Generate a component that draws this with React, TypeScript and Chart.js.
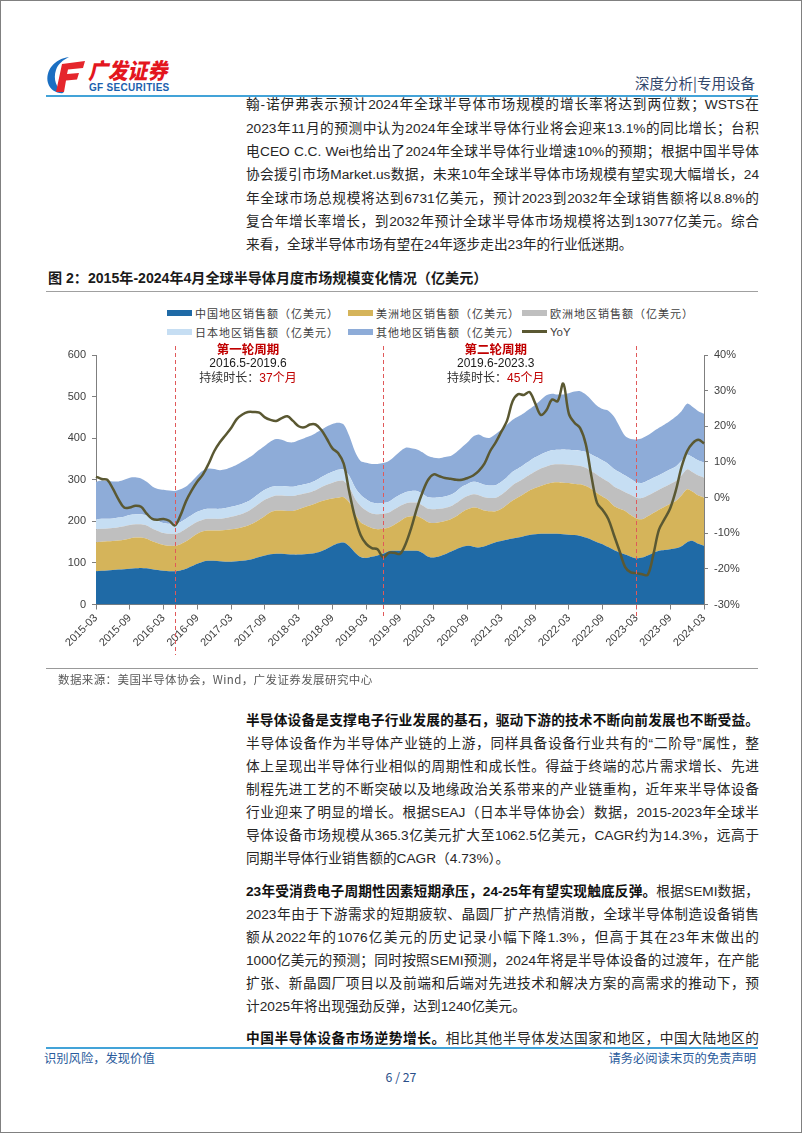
import React, { useEffect, useRef } from 'react';
import { Chart, registerables } from 'chart.js';

Chart.register(...registerables);

// ---------------- data ----------------
const START_YEAR = 2015;
const START_MONTH = 3;

const CHINA = [
  80, 81, 82, 83, 84, 85, 86, 87, 88, 87,
  85, 83, 81, 80, 80, 82, 86, 92, 98, 103,
  105, 105, 104, 103, 103, 104, 105, 107, 110, 114,
  118, 121, 122, 122, 121, 120, 120, 121, 122, 124,
  128, 134, 141, 147, 149, 140, 125, 114, 112, 115,
  118, 122, 128, 129, 129, 129, 129, 129, 124, 115,
  113, 116, 121, 127, 133, 138, 141, 139, 137, 140,
  145, 150, 153, 156, 159, 161, 164, 167, 169, 170,
  170, 170, 170, 169, 168, 167, 165, 161, 156, 150,
  145, 138, 131, 125, 120, 115, 111, 113, 118, 124,
  129, 131, 133, 135, 140, 150, 153, 146, 141,
];

const AMERICAS = [
  70, 70, 70, 70, 70, 71, 73, 74, 73, 71,
  67, 64, 62, 61, 61, 63, 66, 69, 72, 73,
  73, 73, 74, 76, 78, 79, 81, 83, 86, 90,
  95, 101, 104, 104, 104, 105, 109, 113, 116, 119,
  120, 118, 114, 110, 109, 105, 93, 84, 78, 69,
  63, 60, 57, 63, 71, 80, 83, 84, 82, 83,
  83, 82, 80, 78, 79, 84, 88, 94, 94, 86,
  79, 74, 77, 84, 91, 97, 102, 107, 111, 115,
  120, 123, 124, 124, 124, 123, 124, 124, 122, 118,
  114, 113, 106, 105, 105, 100, 96, 92, 94, 96,
  99, 104, 109, 114, 122, 127, 118, 116, 116,
];

const EUROPE = [
  31, 31, 31, 31, 32, 32, 32, 32, 32, 32,
  31, 30, 29, 29, 29, 29, 30, 30, 29, 28,
  28, 28, 28, 29, 30, 31, 32, 34, 37, 39,
  39, 36, 36, 36, 36, 36, 35, 33, 32, 32,
  34, 36, 38, 40, 39, 37, 37, 39, 36, 35,
  36, 36, 36, 37, 37, 34, 33, 32, 32, 32,
  33, 32, 31, 31, 32, 32, 32, 32, 32, 32,
  32, 33, 34, 35, 37, 37, 37, 38, 40, 42,
  42, 43, 43, 44, 44, 45, 44, 44, 43, 44,
  44, 44, 47, 47, 45, 49, 50, 51, 50, 49,
  48, 48, 48, 48, 48, 48, 47, 48, 48,
];

const JAPAN = [
  24, 24, 23, 23, 23, 23, 24, 24, 24, 24,
  24, 24, 24, 24, 24, 24, 24, 24, 24, 24,
  24, 24, 24, 24, 24, 24, 24, 24, 24, 24,
  24, 24, 23, 23, 23, 22, 22, 22, 22, 23,
  24, 25, 26, 27, 27, 27, 27, 27, 27, 26,
  26, 26, 26, 27, 27, 27, 28, 28, 28, 28,
  28, 28, 28, 28, 28, 29, 29, 30, 30, 30,
  30, 30, 31, 31, 32, 32, 33, 33, 34, 34,
  35, 35, 35, 36, 36, 36, 37, 38, 40, 42,
  43, 43, 42, 41, 40, 38, 37, 36, 36, 36,
  35, 35, 35, 35, 35, 35, 36, 36, 36,
];

const OTHER = [
  90, 92, 91, 89, 87, 89, 90, 89, 86, 81,
  77, 77, 80, 80, 79, 79, 78, 81, 87, 94,
  97, 96, 93, 93, 95, 98, 102, 104, 104, 105,
  106, 110, 113, 111, 107, 107, 109, 111, 113, 114,
  114, 115, 115, 113, 109, 96, 86, 81, 88, 93,
  95, 96, 98, 100, 104, 107, 103, 100, 100, 99,
  96, 94, 95, 93, 94, 95, 100, 109, 116, 114,
  115, 123, 125, 126, 125, 125, 124, 125, 126, 131,
  136, 136, 133, 132, 136, 141, 143, 138, 131, 124,
  124, 128, 126, 110, 95, 96, 103, 108, 109, 111,
  114, 115, 117, 120, 120, 123, 121, 119, 118,
];

const YOY = [
  5.9, 5.2, 5.0, 2.5, -0.5, -2.8, -2.8, -2.3, -2.6, -4.5,
  -6.0, -6.2, -6.0, -6.5, -7.8, -5.0, -1.0, 2.0, 4.5, 6.5,
  9.5, 13.0, 15.5, 17.5, 19.5, 22.0, 23.3, 24.0, 24.0, 23.8,
  22.5, 21.8, 21.5, 22.3, 22.8, 21.5, 20.0, 19.7, 20.5, 20.5,
  19.0, 16.5, 13.8, 12.5, 9.5, 1.5, -5.5, -10.5, -13.0, -14.2,
  -14.5, -16.8, -15.5, -15.5, -15.8, -13.0, -8.5, -3.0, 1.5, 5.0,
  6.5, 6.0, 5.5, 5.3, 5.0, 5.0, 5.5, 6.2, 7.5, 9.5,
  13.0, 15.5, 18.5, 21.5, 27.0, 29.0, 28.8, 29.6, 26.5, 23.2,
  24.5, 27.5, 27.0, 32.0, 23.5, 21.0, 19.5, 15.0, 6.0, -1.5,
  -3.5, -6.0, -10.5, -15.0, -19.5, -21.0, -21.2, -21.5, -21.7, -16.0,
  -9.0, -6.0, -3.0, 2.0, 8.5, 13.0, 15.3, 16.2, 15.2,
];

const MONTHS = CHINA.map((_, i) => {
  const t = START_MONTH - 1 + i;
  const y = START_YEAR + Math.floor(t / 12);
  const m = (t % 12) + 1;
  return `${y}-${String(m).padStart(2, '0')}`;
});

const SERIES_NAMES = [
  '中国地区销售额（亿美元）',
  '美洲地区销售额（亿美元）',
  '欧洲地区销售额（亿美元）',
  '日本地区销售额（亿美元）',
  '其他地区销售额（亿美元）',
];
const YOY_NAME = 'YoY';
const SERIES_COLORS = ['#1f6aa6', '#d5b45a', '#bfbfbf', '#c6def3', '#8eacd8'];
const YOY_COLOR = '#5a5832';

const CYCLE_BOUNDS = ['2016-05', '2019-06', '2023-03'];
const CYCLE_LABEL_AT = ['2017-06', '2021-02'];
const CYCLE_TITLES = ['第一轮周期', '第二轮周期'];
const CYCLE_RANGES = ['2016.5-2019.6', '2019.6-2023.3'];
const CYCLE_LENGTHS = ['37个月', '45个月'];

// ---------------- styles ----------------
const SANS = '"Liberation Sans", "Noto Sans CJK SC", Arial, sans-serif';
const CJK = '"Noto Sans CJK SC", "Liberation Sans", sans-serif';

const cyclePlugin = {
  id: 'cycles',
  afterDatasetsDraw(chart: any) {
    const { ctx } = chart;
    const x = chart.scales.x;
    const px = CYCLE_BOUNDS.map((l) => x.getPixelForValue(MONTHS.indexOf(l)));
    ctx.save();
    ctx.strokeStyle = '#e0595a';
    ctx.lineWidth = 1;
    ctx.setLineDash([4, 3]);
    px.forEach((p: number, i: number) => {
      const xx = Math.round(p) + 0.5;
      ctx.beginPath();
      ctx.moveTo(xx, 7);
      ctx.lineTo(xx, i === 0 ? 316 : 280);
      ctx.stroke();
    });
    ctx.setLineDash([]);
    ctx.textBaseline = 'middle';
    for (let i = 0; i < CYCLE_TITLES.length; i++) {
      const cx = x.getPixelForValue(MONTHS.indexOf(CYCLE_LABEL_AT[i]));
      ctx.textAlign = 'center';
      ctx.font = `bold 12.5px ${CJK}`;
      ctx.fillStyle = '#c00000';
      ctx.fillText(CYCLE_TITLES[i], cx, 10);
      ctx.font = `12px ${SANS}`;
      ctx.fillStyle = '#1a1a1a';
      ctx.fillText(CYCLE_RANGES[i], cx, 25);
      const a = '持续时长：';
      const b = CYCLE_LENGTHS[i];
      ctx.font = `12px ${SANS}`;
      const wa = ctx.measureText(a).width;
      const wb = ctx.measureText(b).width;
      const left = cx - (wa + wb) / 2;
      ctx.textAlign = 'left';
      ctx.fillStyle = '#333333';
      ctx.fillText(a, left, 40);
      ctx.fillStyle = '#c00000';
      ctx.fillText(b, left + wa, 40);
    }
    ctx.restore();
  },
};

function SemiChart() {
  const ref = useRef<HTMLCanvasElement | null>(null);
  useEffect(() => {
    if (!ref.current) return;
    const areaData = [CHINA, AMERICAS, EUROPE, JAPAN, OTHER];
    const areaSets = areaData.map((d, i) => ({
      label: SERIES_NAMES[i],
      data: d,
      yAxisID: 'y',
      backgroundColor: SERIES_COLORS[i],
      borderColor: 'rgba(0,0,0,0)',
      borderWidth: 0,
      pointRadius: 0,
      fill: i === 0 ? 'origin' : '-1',
      tension: 0.3,
    }));
    const tickFont = { family: SANS, size: 11 };
    const chart = new Chart(ref.current, {
      type: 'line',
      data: {
        labels: MONTHS,
        datasets: [
          {
            label: YOY_NAME,
            data: YOY,
            yAxisID: 'y1',
            borderColor: YOY_COLOR,
            backgroundColor: YOY_COLOR,
            borderWidth: 2.5,
            pointRadius: 0,
            fill: false,
            tension: 0.35,
          } as any,
          ...areaSets,
        ],
      },
      options: {
        responsive: false,
        animation: false,
        devicePixelRatio: 1,
        layout: { padding: { top: 16, left: 0, right: 0, bottom: 0 } },
        plugins: { legend: { display: false }, tooltip: { enabled: false } },
        scales: {
          x: {
            type: 'category',
            offset: false,
            grid: { display: true, drawOnChartArea: false, drawTicks: true, tickLength: 5, color: '#7f7f7f' },
            border: { display: true, color: '#7f7f7f' },
            ticks: { autoSkip: false, maxRotation: 45, minRotation: 45, font: tickFont, color: '#404040', padding: 2 },
            afterBuildTicks: (s: any) => {
              s.ticks = s.ticks.filter((t: any) => t.value % 6 === 0);
            },
            afterFit: (s: any) => {
              s.height = 64.5;
            },
          },
          y: {
            position: 'left',
            stacked: true,
            min: 0,
            max: 600,
            grid: { display: true, drawOnChartArea: false, tickLength: 4, color: '#7f7f7f' },
            border: { display: true, color: '#7f7f7f' },
            ticks: { stepSize: 100, font: tickFont, color: '#404040', padding: 6 },
            afterFit: (s: any) => {
              s.width = 55;
            },
          },
          y1: {
            position: 'right',
            min: -30,
            max: 40,
            grid: { display: true, drawOnChartArea: false, tickLength: 4, color: '#7f7f7f' },
            border: { display: true, color: '#7f7f7f' },
            ticks: { stepSize: 10, font: tickFont, color: '#404040', padding: 6, callback: (v: any) => `${v}%` },
            afterFit: (s: any) => {
              s.width = 57;
            },
          },
        },
      } as any,
      plugins: [cyclePlugin as any],
    });
    return () => chart.destroy();
  }, []);
  return (
    <canvas
      ref={ref}
      width={720}
      height={330}
      style={{ position: 'absolute', left: 40, top: 338, width: 720, height: 330 }}
    />
  );
}

function Legend() {
  const cols = [166, 347, 521];
  const rows = [311.5, 330.5];
  const items = [...SERIES_NAMES.map((n, i) => ({ name: n, color: SERIES_COLORS[i], line: false })), { name: YOY_NAME, color: YOY_COLOR, line: true }];
  return (
    <>
      {items.map((it, i) => {
        const left = cols[i % 3];
        const cy = rows[Math.floor(i / 3)];
        return (
          <div key={i} style={{ position: 'absolute', left, top: cy - 8, height: 16, display: 'flex', alignItems: 'center', whiteSpace: 'nowrap' }}>
            <div style={{ width: 25, height: it.line ? 2.5 : 6, background: it.color, marginRight: 3 }} />
            <span style={{ fontFamily: it.line ? SANS : CJK, fontSize: it.line ? 11.5 : 11, letterSpacing: it.line ? 0 : 1, color: '#404040', lineHeight: '16px' }}>{it.name}</span>
          </div>
        );
      })}
    </>
  );
}

type LineSpec = { content: React.ReactNode; last?: boolean };

function Para({ top, lh, lines }: { top: number; lh: number; lines: LineSpec[] }) {
  return (
    <>
      {lines.map((l, i) => (
        <div
          key={i}
          style={{
            position: 'absolute',
            left: 245,
            width: 513,
            top: top + i * lh,
            height: lh,
            lineHeight: `${lh}px`,
            fontSize: 13.7,
            color: '#262626',
            textAlign: 'justify',
            textAlignLast: l.last ? 'left' : 'justify',
            fontFamily: SANS,
          } as any}
        >
          {l.content}
        </div>
      ))}
    </>
  );
}

const B = ({ children }: { children: React.ReactNode }) => <b style={{ fontWeight: 700, color: '#111' }}>{children}</b>;

export default function App() {
  return (
    <div
      style={{
        position: 'absolute',
        left: 0,
        top: 0,
        width: 802,
        height: 1133,
        background: '#ffffff',
        border: '1px solid #808080',
        boxSizing: 'border-box',
        overflow: 'hidden',
        fontFamily: SANS,
      }}
    >
      {/* header logo */}
      <svg width={42} height={38} viewBox="0 0 42 38" style={{ position: 'absolute', left: 44, top: 55 }}>
        <path d="M24 1 C9 3 0 15 3 27 C5 34 12 38 19 37 C11 32 8 23 11 14 C13 8 18 4 24 1 Z" fill="#1b6fc2" />
        <path d="M17 8 L40 5 L38 12 L23 13.5 L22 18 L34 17 L32 23.5 L21 24.5 L19 36 L11 36 Z" fill="#e5262c" />
      </svg>
      <div style={{ position: 'absolute', left: 87, top: 54, fontFamily: CJK, fontWeight: 900, fontSize: 22, color: '#e3161e', lineHeight: '28px', fontStyle: 'italic', transform: 'scaleX(0.9)', transformOrigin: 'left center', whiteSpace: 'nowrap' }}>
        广发证券
      </div>
      <div style={{ position: 'absolute', left: 88, top: 81, fontFamily: '"Liberation Sans Narrow", "Liberation Sans", sans-serif', fontWeight: 700, fontSize: 10, letterSpacing: 0.3, color: '#1b5fae', lineHeight: '11px', whiteSpace: 'nowrap' }}>
        GF SECURITIES
      </div>
      <div style={{ position: 'absolute', right: 46, top: 72, fontFamily: CJK, fontSize: 14.5, color: '#33476b', lineHeight: '20px' }}>
        深度分析|专用设备
      </div>
      <div style={{ position: 'absolute', left: 45, top: 94, width: 712, height: 2, background: '#43a3d8' }} />

      {/* paragraph 1 */}
      <Para
        top={92.4}
        lh={23.3}
        lines={[
          { content: '翰-诺伊弗表示预计2024年全球半导体市场规模的增长率将达到两位数；WSTS在' },
          { content: '2023年11月的预测中认为2024年全球半导体行业将会迎来13.1%的同比增长；台积' },
          { content: '电CEO C.C. Wei也给出了2024年全球半导体行业增速10%的预期；根据中国半导体' },
          { content: '协会援引市场Market.us数据，未来10年全球半导体市场规模有望实现大幅增长，24' },
          { content: '年全球市场总规模将达到6731亿美元，预计2023到2032年全球销售额将以8.8%的' },
          { content: '复合年增长率增长，到2032年预计全球半导体市场规模将达到13077亿美元。综合' },
          { content: '来看，全球半导体市场有望在24年逐步走出23年的行业低迷期。', last: true },
        ]}
      />

      {/* figure title */}
      <div style={{ position: 'absolute', left: 47, top: 267, lineHeight: '20px', fontSize: 14.1, fontWeight: 700, color: '#1a1a1a', whiteSpace: 'nowrap' }}>
        图 2：2015年-2024年4月全球半导体月度市场规模变化情况（亿美元）
      </div>
      <div style={{ position: 'absolute', left: 45, top: 290, width: 712, height: 1, background: '#a0a0a0' }} />

      <Legend />
      <SemiChart />

      <div style={{ position: 'absolute', left: 45, top: 667, width: 712, height: 1, background: '#999999' }} />
      <div style={{ position: 'absolute', left: 57, top: 670, lineHeight: '16px', fontFamily: CJK, fontSize: 11.5, letterSpacing: 0.4, color: '#595959', whiteSpace: 'nowrap' }}>
        数据来源：美国半导体协会，Wind，广发证券发展研究中心
      </div>

      {/* paragraph 2 */}
      <Para
        top={707.5}
        lh={23}
        lines={[
          { content: <B>半导体设备是支撑电子行业发展的基石，驱动下游的技术不断向前发展也不断受益。</B> },
          { content: '半导体设备作为半导体产业链的上游，同样具备设备行业共有的“二阶导”属性，整' },
          { content: '体上呈现出半导体行业相似的周期性和成长性。得益于终端的芯片需求增长、先进' },
          { content: '制程先进工艺的不断突破以及地缘政治关系带来的产业链重构，近年来半导体设备' },
          { content: '行业迎来了明显的增长。根据SEAJ（日本半导体协会）数据，2015-2023年全球半' },
          { content: '导体设备市场规模从365.3亿美元扩大至1062.5亿美元，CAGR约为14.3%，远高于' },
          { content: '同期半导体行业销售额的CAGR（4.73%）。', last: true },
        ]}
      />

      {/* paragraph 3 */}
      <Para
        top={878.5}
        lh={23}
        lines={[
          { content: <><B>23年受消费电子周期性因素短期承压，24-25年有望实现触底反弹。</B>根据SEMI数据，</> },
          { content: '2023年由于下游需求的短期疲软、晶圆厂扩产热情消散，全球半导体制造设备销售' },
          { content: '额从2022年的1076亿美元的历史记录小幅下降1.3%，但高于其在23年末做出的' },
          { content: '1000亿美元的预测；同时按照SEMI预测，2024年将是半导体设备的过渡年，在产能' },
          { content: '扩张、新晶圆厂项目以及前端和后端对先进技术和解决方案的高需求的推动下，预' },
          { content: '计2025年将出现强劲反弹，达到1240亿美元。', last: true },
        ]}
      />

      {/* paragraph 4 */}
      <Para
        top={1025.5}
        lh={23}
        lines={[{ content: <><B>中国半导体设备市场逆势增长。</B>相比其他半导体发达国家和地区，中国大陆地区的</> }]}
      />

      {/* footer */}
      <div style={{ position: 'absolute', left: 45, top: 1046, width: 712, height: 2, background: '#43a3d8' }} />
      <div style={{ position: 'absolute', left: 43, top: 1048, lineHeight: '18px', fontFamily: CJK, fontSize: 12.3, color: '#2a5b9c', whiteSpace: 'nowrap' }}>
        识别风险，发现价值
      </div>
      <div style={{ position: 'absolute', right: 45, top: 1048, lineHeight: '18px', fontFamily: CJK, fontSize: 12.3, color: '#2a5b9c', whiteSpace: 'nowrap' }}>
        请务必阅读末页的免责声明
      </div>
      <div style={{ position: 'absolute', left: 0, width: 800, top: 1067, textAlign: 'center', lineHeight: '18px', fontFamily: CJK, fontSize: 12.3, color: '#2a4f8a' }}>
        6 / 27
      </div>
    </div>
  );
}
